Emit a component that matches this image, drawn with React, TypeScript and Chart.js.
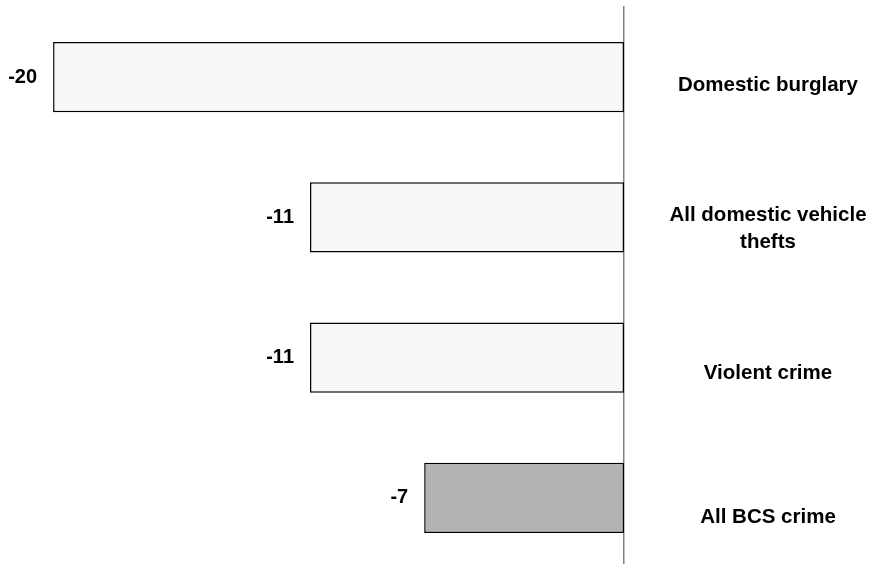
import React, { useEffect, useRef } from "react";
import { Chart, registerables } from "chart.js";

Chart.register(...registerables);

// ---- data ----
const categories: (string | string[])[] = [
  "Domestic burglary",
  ["All domestic vehicle", "thefts"],
  "Violent crime",
  "All BCS crime",
];
const values: number[] = [-20, -11, -11, -7];
const valueLabels: string[] = ["-20", "-11", "-11", "-7"];
const barColors: string[] = ["#f8f8f8", "#f8f8f8", "#f8f8f8", "#b3b3b3"];
const xMin = -21.86;
const xMax = 0;
// category-label track (index units across the plot height)
const labMin = -0.54;
const labMax = 3.35;

const FONT = '"Liberation Sans", Arial, Helvetica, sans-serif';

const labelPlugin = {
  id: "customLabels",
  afterDatasetsDraw(chart: any) {
    const ctx = chart.ctx;
    const meta = chart.getDatasetMeta(0);
    const area = chart.chartArea;
    ctx.save();
    ctx.fillStyle = "#000";
    ctx.font = `bold 20px ${FONT}`;
    ctx.textAlign = "right";
    ctx.textBaseline = "middle";
    meta.data.forEach((bar: any, i: number) => {
      const { x, y } = bar.getProps(["x", "y"], true);
      ctx.fillText(valueLabels[i], x - 16, y);
    });
    ctx.font = `bold 20.5px ${FONT}`;
    ctx.textAlign = "center";
    const cx = area.right + 144;
    const lh = 27;
    const h = area.bottom - area.top;
    categories.forEach((c, i) => {
      const lines = Array.isArray(c) ? c : [c];
      const cy = area.top + ((i - labMin) / (labMax - labMin)) * h;
      lines.forEach((ln, j) =>
        ctx.fillText(ln, cx, cy + (j - (lines.length - 1) / 2) * lh)
      );
    });
    ctx.restore();
  },
};

export default function App() {
  const ref = useRef<HTMLCanvasElement | null>(null);

  useEffect(() => {
    if (!ref.current) return;
    const chart = new Chart(ref.current, {
      type: "bar",
      data: {
        labels: categories as any,
        datasets: [
          {
            data: values,
            backgroundColor: barColors,
            borderColor: "#000",
            borderWidth: 1.5,
            borderSkipped: false,
            barPercentage: 0.5,
            categoryPercentage: 1,
          },
        ],
      },
      options: {
        indexAxis: "y",
        animation: false,
        responsive: true,
        maintainAspectRatio: false,
        layout: { padding: { top: 7, right: 247, left: 0, bottom: 0 } },
        plugins: {
          legend: { display: false },
          tooltip: { enabled: false },
        },
        scales: {
          x: {
            type: "linear",
            min: xMin,
            max: xMax,
            display: false,
          },
          y: {
            type: "category",
            position: { x: 0 } as any,
            ticks: { display: false },
            grid: { display: false, drawTicks: false },
            border: { display: true, color: "#808080", width: 1.5 },
          },
        },
      },
      plugins: [labelPlugin],
    });
    return () => chart.destroy();
  }, []);

  return (
    <div
      style={{
        position: "fixed",
        left: 0,
        top: 0,
        width: 871,
        height: 564,
        overflow: "hidden",
        background: "#fff",
      }}
    >
      <div style={{ position: "relative", width: 871, height: 568 }}>
        <canvas ref={ref} />
      </div>
    </div>
  );
}
